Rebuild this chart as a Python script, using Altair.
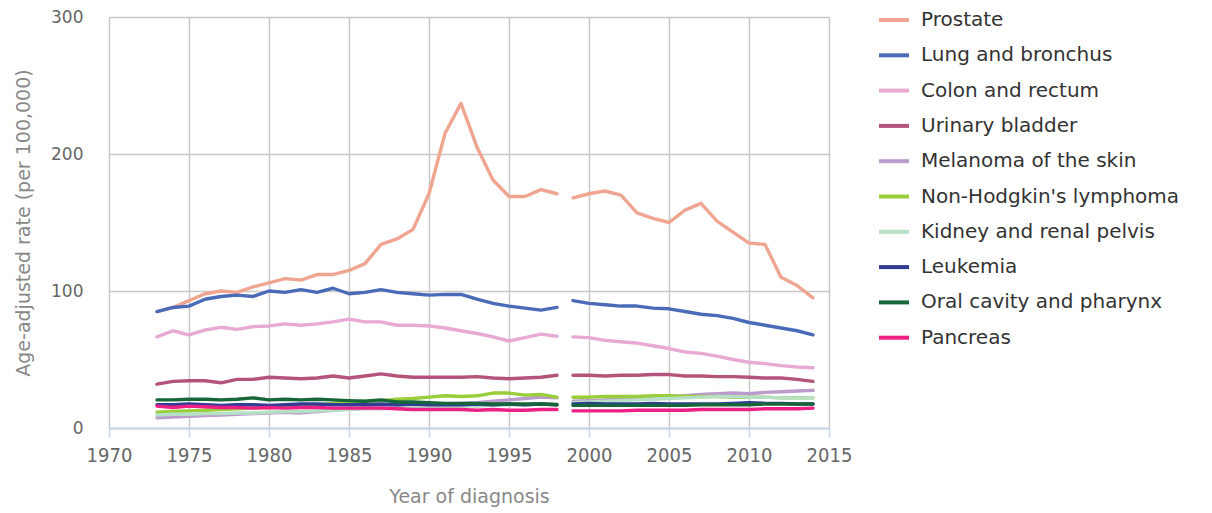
import altair as alt
import pandas as pd

years_a = list(range(1973, 1999))
years_b = list(range(1999, 2015))

cancers = ["Prostate", "Lung and bronchus", "Colon and rectum", "Urinary bladder",
           "Melanoma of the skin", "Non-Hodgkin's lymphoma", "Kidney and renal pelvis",
           "Leukemia", "Oral cavity and pharynx", "Pancreas"]
colors = ["#F0A590", "#4A6CB8", "#E8A9D2", "#B5547A", "#BA9BCB",
          "#9ACD3A", "#B5E0C5", "#323C96", "#17663A", "#EE1F85"]

prostate = [85, 88, 93, 98, 100, 99, 103, 106, 109, 108, 112, 112, 115, 120, 134, 138, 145, 171, 215, 237, 205, 181, 169, 169, 174, 171,
            168, 171, 173, 170, 157, 153, 150, 159, 164, 151, 143, 135, 134, 110, 104, 95]
lung = [85, 88, 89, 94, 96, 97, 96, 100, 99, 101, 99, 102, 98, 99, 101, 99, 98, 97, 97.5, 97.5, 94, 91, 89, 87.5, 86, 88,
        93, 91, 90, 89, 89, 87.5, 87, 85, 83, 82, 80, 77, 75, 73, 71, 68]
colon = [66.5, 71, 68, 71.5, 73.5, 72, 74, 74.5, 76, 75, 76, 77.5, 79.5, 77.5, 77.5, 75, 75, 74.5, 73, 71, 69, 66.5, 63.5, 66, 68.5, 67,
         66.5, 66, 64, 63, 62, 60, 58, 55.5, 54.5, 52.5, 50, 48, 47, 45.5, 44.5, 44]
bladder = [32, 34, 34.5, 34.5, 33, 35.5, 35.5, 37, 36.5, 36, 36.5, 38, 36.5, 38, 39.5, 38, 37, 37, 37, 37, 37.5, 36.5, 36, 36.5, 37, 38.5,
           38.5, 38.5, 38, 38.5, 38.5, 39, 39, 38, 38, 37.5, 37.5, 37, 36.5, 36.5, 35.5, 34]
melanoma = [7.5, 8, 8.5, 9, 9.5, 10, 10.5, 11, 11.5, 11, 12, 13, 14, 14.5, 15.5, 16, 17, 17, 17.5, 18, 18.5, 19.5, 20.5, 21.5, 22.5, 22,
            19.5, 20, 20.5, 21, 21.5, 22, 23, 23.5, 24.5, 25, 25.5, 25, 26, 26.5, 27, 27.5]
nhl = [11.5, 12, 12.5, 13, 13.5, 14, 14.5, 15, 15.5, 16, 17, 18, 19, 19.5, 20, 21, 21.5, 22.5, 23.5, 23, 23.5, 25.5, 25.5, 24, 24.5, 22.5,
       22.5, 22.5, 23, 23, 23, 23.5, 23.5, 23, 23, 23, 22.5, 22.5, 22.5, 22, 22, 22]
kidney = [9.5, 10, 10, 10.5, 10.5, 11, 11, 11.5, 12, 12, 12.5, 13, 13.5, 14, 14, 14.5, 15, 15.5, 15.5, 16, 16, 16.5, 17, 17, 17.5, 17.5,
          18.5, 19, 19.5, 20, 20.5, 21, 21.5, 22, 22.5, 23, 23, 22.5, 22.5, 22, 22, 22]
leukemia = [17, 17, 17.5, 17, 16.5, 17, 17, 16.5, 17, 17.5, 17.5, 17, 17, 17, 17.5, 17, 17.5, 17, 17, 17, 17.5, 17, 17.5, 17, 17.5, 17,
            17.5, 18, 17.5, 17.5, 17.5, 18, 17.5, 17.5, 17.5, 17.5, 18, 18.5, 18, 18, 17.5, 17.5]
oral = [20.5, 20.5, 21, 21, 20.5, 21, 22, 20.5, 21, 20.5, 21, 20.5, 20, 19.5, 20.5, 19, 19, 18.5, 18, 18, 18, 17.5, 17.5, 17.5, 17.5, 17,
        16.5, 16.5, 16.5, 16.5, 16.5, 16.5, 16.5, 16.5, 17, 17, 17, 17, 17.5, 17.5, 17.5, 17.5]
pancreas = [16, 15, 16, 15.5, 15, 15, 14.5, 15, 14.5, 15, 15, 14.5, 14.5, 14.5, 14.5, 14, 13.5, 13.5, 13.5, 13.5, 13, 13.5, 13, 13, 13.5, 13.5,
            12.5, 12.5, 12.5, 12.5, 13, 13, 13, 13, 13.5, 13.5, 13.5, 13.5, 14, 14, 14, 14.5]

series = [prostate, lung, colon, bladder, melanoma, nhl, kidney, leukemia, oral, pancreas]
years = years_a + years_b

rows = []
for order, (name, vals) in enumerate(zip(cancers, series)):
    for yr, v in zip(years, vals):
        rows.append({"cancer": name, "year": yr, "rate": v,
                     "seg": name + ("_a" if yr <= 1998 else "_b"), "order": order})
df = pd.DataFrame(rows)

font = "DejaVu Sans"
cond = "DejaVu Sans Condensed, DejaVu Sans"

chart = alt.Chart(df).mark_line(strokeWidth=3.4, strokeCap="round", strokeJoin="round").encode(
    x=alt.X("year:Q", scale=alt.Scale(domain=[1970, 2015], nice=False, zero=False),
            axis=alt.Axis(values=list(range(1970, 2016, 5)), format="d", title="Year of diagnosis",
                          grid=True, gridColor="#c8c8c8", gridWidth=1.5, labelFlush=False,
                          domainColor="#c6d6ea", domainWidth=2, tickColor="#c6d6ea", tickWidth=1.5,
                          tickSize=9, labelPadding=8, labelFontSize=20, labelColor="#666666",
                          labelFont=cond, titleFont=font, titleFontSize=19, titleFontWeight="normal",
                          titleColor="#888888", titlePadding=22)),
    y=alt.Y("rate:Q", scale=alt.Scale(domain=[0, 300], nice=False),
            axis=alt.Axis(values=[0, 100, 200, 300], title="Age-adjusted rate (per 100,000)",
                          grid=True, gridColor="#c8c8c8", gridWidth=1.5, domain=False, ticks=False,
                          labelPadding=26, labelFontSize=17, labelColor="#666666", labelFont=font,
                          labelFlush=False,
                          titleFont=font, titleFontSize=19, titleFontWeight="normal",
                          titleColor="#888888", titlePadding=17)),
    color=alt.Color("cancer:N", scale=alt.Scale(domain=cancers, range=colors),
                    legend=alt.Legend(title=None, orient="none", legendX=768, legendY=-14,
                                      symbolType="stroke", symbolSize=900, symbolStrokeWidth=4,
                                      labelFont=font, labelFontSize=20, labelColor="#333333",
                                      labelLimit=0, rowPadding=8.3, labelOffset=10, padding=0)),
    detail="seg:N",
    order="order:Q",
).properties(
    width=720, height=411,
    autosize=alt.AutoSizeParams(type="none"),
    padding={"left": 101, "top": 9, "right": 370, "bottom": 80},
).configure_view(stroke=None)

chart.save("out.html", embed_options={"renderer": "svg", "actions": False})
